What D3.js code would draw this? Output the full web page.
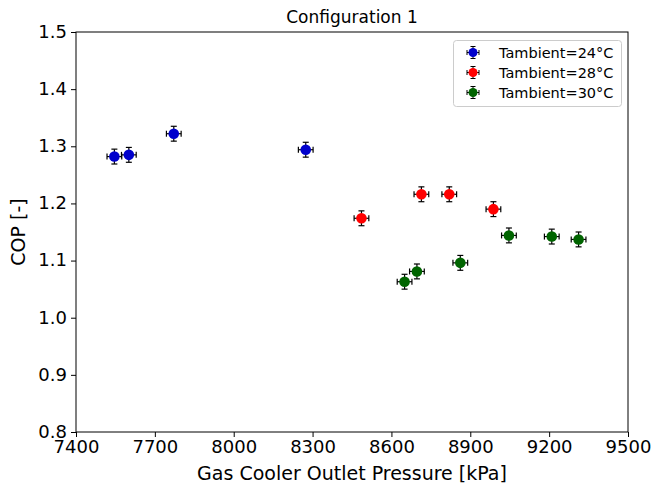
<!DOCTYPE html>
<html>
<head>
<meta charset="utf-8">
<script src="https://cdn.jsdelivr.net/npm/d3@7"></script>
<style>
  body { margin: 0; background: #fff; }
  text { font-family: "DejaVu Sans", sans-serif; fill: #000; }
</style>
</head>
<body>
<div id="chart"></div>
<script>
// Данные графика
const seriesNames = ["Tambient=24°C", "Tambient=28°C", "Tambient=30°C"];
const seriesColors = ["#0000cc", "#ff0000", "#006400"];
const pressure24 = [7546, 7601, 7772, 8274];
const cop24 = [1.282, 1.285, 1.322, 1.294];
const pressure28 = [8486, 8714, 8820, 8988];
const cop28 = [1.174, 1.216, 1.216, 1.190];
const pressure30 = [8650, 8697, 8862, 9047, 9210, 9312];
const cop30 = [1.063, 1.081, 1.096, 1.144, 1.142, 1.137];
const pressureErr = 28;
const copErr = 0.013;
const xTicks = [7400, 7700, 8000, 8300, 8600, 8900, 9200, 9500];
const yTicks = [0.8, 0.9, 1.0, 1.1, 1.2, 1.3, 1.4, 1.5];

const series = [
    { name: seriesNames[0], color: seriesColors[0], xs: pressure24, ys: cop24 },
    { name: seriesNames[1], color: seriesColors[1], xs: pressure28, ys: cop28 },
    { name: seriesNames[2], color: seriesColors[2], xs: pressure30, ys: cop30 }
];

const W = 654, H = 489;
const margin = { top: 32, right: 26, bottom: 57, left: 76 };

const svg = d3.select("#chart").append("svg")
    .attr("width", W)
    .attr("height", H);

const x = d3.scaleLinear().domain([7400, 9500]).range([margin.left, W - margin.right]);
const y = d3.scaleLinear().domain([0.8, 1.5]).range([H - margin.bottom, margin.top]);

// Оси
const xAxis = svg.append("g")
    .attr("transform", `translate(0,${H - margin.bottom})`)
    .call(d3.axisBottom(x).tickValues(xTicks).tickFormat(d3.format("d")).tickSize(5).tickPadding(3));
const yAxis = svg.append("g")
    .attr("transform", `translate(${margin.left},0)`)
    .call(d3.axisLeft(y).tickValues(yTicks).tickFormat(d3.format(".1f")).tickSize(5).tickPadding(4));

[xAxis, yAxis].forEach(a => {
    a.select(".domain").remove();
    a.selectAll("line").attr("stroke", "#000").attr("stroke-width", 1);
    a.selectAll("text").attr("font-size", 18).attr("font-family", "DejaVu Sans");
});
// подписи оси Y чуть выше, как в оригинале
yAxis.selectAll("text").attr("dy", "0.3em");

// Рамка
svg.append("rect")
    .attr("x", margin.left)
    .attr("y", margin.top)
    .attr("width", W - margin.left - margin.right)
    .attr("height", H - margin.top - margin.bottom)
    .attr("fill", "none")
    .attr("stroke", "#000")
    .attr("stroke-width", 1);

// Подписи
svg.append("text")
    .attr("x", (margin.left + W - margin.right) / 2)
    .attr("y", 23)
    .attr("text-anchor", "middle")
    .attr("font-size", 17)
    .text("Configuration 1");

svg.append("text")
    .attr("x", (margin.left + W - margin.right) / 2)
    .attr("y", 480)
    .attr("text-anchor", "middle")
    .attr("font-size", 19)
    .text("Gas Cooler Outlet Pressure [kPa]");

svg.append("text")
    .attr("transform", `translate(25,${(margin.top + H - margin.bottom) / 2}) rotate(-90)`)
    .attr("text-anchor", "middle")
    .attr("font-size", 19)
    .text("COP [-]");

// Точки с погрешностями
function drawErrPoint(g, cx, cy, color) {
    const x0 = x(cx - pressureErr), x1 = x(cx + pressureErr);
    const y0 = y(cy - copErr), y1 = y(cy + copErr);
    const px = x(cx), py = y(cy);
    const cap = 3;
    g.append("line").attr("x1", x0).attr("x2", x1).attr("y1", py).attr("y2", py).attr("stroke", "#000").attr("stroke-width", 1.2);
    g.append("line").attr("x1", px).attr("x2", px).attr("y1", y0).attr("y2", y1).attr("stroke", "#000").attr("stroke-width", 1.2);
    g.append("line").attr("x1", x0).attr("x2", x0).attr("y1", py - cap).attr("y2", py + cap).attr("stroke", "#000").attr("stroke-width", 1.2);
    g.append("line").attr("x1", x1).attr("x2", x1).attr("y1", py - cap).attr("y2", py + cap).attr("stroke", "#000").attr("stroke-width", 1.2);
    g.append("line").attr("x1", px - cap).attr("x2", px + cap).attr("y1", y0).attr("y2", y0).attr("stroke", "#000").attr("stroke-width", 1.2);
    g.append("line").attr("x1", px - cap).attr("x2", px + cap).attr("y1", y1).attr("y2", y1).attr("stroke", "#000").attr("stroke-width", 1.2);
    g.append("circle").attr("cx", px).attr("cy", py).attr("r", 5.3).attr("fill", color);
}

series.forEach(s => {
    const g = svg.append("g");
    s.xs.forEach((v, i) => drawErrPoint(g, v, s.ys[i], s.color));
});

// Легенда
const legend = svg.append("g");
legend.append("rect")
    .attr("x", 453.5).attr("y", 40.5)
    .attr("width", 168).attr("height", 66)
    .attr("rx", 3)
    .attr("fill", "#fff")
    .attr("stroke", "#ccc");

series.forEach((s, i) => {
    const ly = 52.5 + i * 20, lx = 473;
    legend.append("line").attr("x1", lx - 6).attr("x2", lx + 6).attr("y1", ly).attr("y2", ly).attr("stroke", "#000");
    legend.append("line").attr("x1", lx).attr("x2", lx).attr("y1", ly - 6).attr("y2", ly + 6).attr("stroke", "#000");
    legend.append("line").attr("x1", lx - 6).attr("x2", lx - 6).attr("y1", ly - 2.5).attr("y2", ly + 2.5).attr("stroke", "#000");
    legend.append("line").attr("x1", lx + 6).attr("x2", lx + 6).attr("y1", ly - 2.5).attr("y2", ly + 2.5).attr("stroke", "#000");
    legend.append("line").attr("x1", lx - 2.5).attr("x2", lx + 2.5).attr("y1", ly - 6).attr("y2", ly - 6).attr("stroke", "#000");
    legend.append("line").attr("x1", lx - 2.5).attr("x2", lx + 2.5).attr("y1", ly + 6).attr("y2", ly + 6).attr("stroke", "#000");
    legend.append("circle").attr("cx", lx).attr("cy", ly).attr("r", 4.5).attr("fill", s.color);
    legend.append("text")
        .attr("x", 499)
        .attr("y", ly)
        .attr("dy", "0.35em")
        .attr("font-size", 14.5)
        .text(s.name);
});
</script>
</body>
</html>
